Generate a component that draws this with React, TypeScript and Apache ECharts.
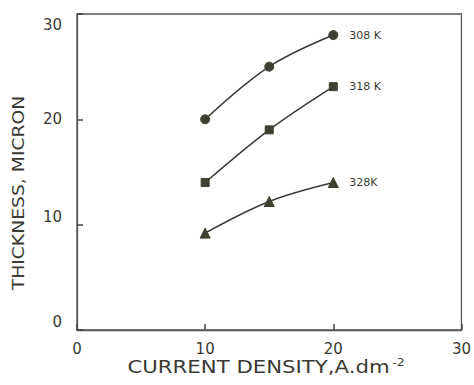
import React, { useEffect, useRef } from "react";
import * as echarts from "echarts";

const currentDensity = [10, 15, 20];
const seriesNames = ["308 K", "318 K", "328K"];
const thickness308 = [20, 25, 28];
const thickness318 = [14, 19, 23.1];
const thickness328 = [9.2, 12.2, 14];
const xTicks = [0, 10, 20, 30];
const yTicks = [0, 10, 20, 30];

const INK = "#3a3a34";
const MARK = "#3f4030";
const FONT = "DejaVu Sans";

export default function App() {
  const ref = useRef<HTMLDivElement>(null);
  useEffect(() => {
    if (!ref.current) return;
    const chart = echarts.init(ref.current, undefined, { renderer: "svg" });
    const mk = (name: string, vals: number[], symbol: string, size: number) => ({
      name,
      type: "line",
      smooth: 0.35,
      data: currentDensity.map((x, i) => [x, vals[i]]),
      symbol,
      symbolSize: size,
      showAllSymbol: true,
      lineStyle: { color: INK, width: 1.5 },
      itemStyle: { color: MARK, borderColor: MARK },
      endLabel: {
        show: true,
        formatter: "{a}",
        distance: 16,
        color: INK,
        fontFamily: FONT,
        fontSize: 11,
      },
    });
    chart.setOption({
      animation: false,
      backgroundColor: "#ffffff",
      grid: {
        left: 77,
        top: 14,
        right: 474 - 466,
        bottom: 385 - 330,
        show: true,
        borderColor: "#555",
        borderWidth: 1.3,
      },
      xAxis: {
        type: "value",
        min: xTicks[0],
        max: xTicks[xTicks.length - 1],
        interval: 10,
        splitLine: { show: false },
        axisLine: { show: true, lineStyle: { color: "#555", width: 1.3 } },
        axisTick: { show: true, inside: true, length: 6, lineStyle: { color: "#444", width: 1.5 } },
        axisLabel: { margin: 11, color: INK, fontFamily: FONT, fontSize: 15 },
      },
      yAxis: {
        type: "value",
        min: yTicks[0],
        max: yTicks[yTicks.length - 1],
        interval: 10,
        splitLine: { show: false },
        axisLine: { show: true, lineStyle: { color: "#555", width: 1.3 } },
        axisTick: { show: true, inside: true, length: 6, lineStyle: { color: "#444", width: 1.5 } },
        axisLabel: {
          margin: 15,
          color: INK,
          fontFamily: FONT,
          fontSize: 15,
          formatter: (v: number) =>
            v === 30 ? "{top|30}" : v === 0 ? "{bot|0}" : v === 10 ? "{ten|10}" : String(v),
          rich: {
            top: { padding: [22, 0, 0, 0], color: INK, fontFamily: FONT, fontSize: 15 },
            bot: { padding: [0, 0, 16, 0], color: INK, fontFamily: FONT, fontSize: 15 },
            ten: { padding: [0, 0, 16, 0], color: INK, fontFamily: FONT, fontSize: 15 },
          },
        },
      },
      graphic: [
        {
          type: "text",
          x: 266,
          y: 367,
          scaleX: 1.25,
          style: {
            text: "CURRENT DENSITY,A.dm{s|-2}",
            rich: { s: { fontSize: 10, verticalAlign: "top", padding: [0, 0, 8, 2], fill: INK, fontFamily: FONT } },
            fill: INK,
            fontFamily: FONT,
            fontSize: 17,
            align: "center",
            verticalAlign: "middle",
          },
        },
        {
          type: "text",
          x: 19,
          y: 193,
          rotation: Math.PI / 2,
          scaleX: 1.25,
          style: {
            text: "THICKNESS, MICRON",
            fill: INK,
            fontFamily: FONT,
            fontSize: 15,
            align: "center",
            verticalAlign: "middle",
          },
        },
      ],
      series: [
        mk(seriesNames[0], thickness308, "circle", 9),
        mk(seriesNames[1], thickness318, "rect", 8),
        mk(seriesNames[2], thickness328, "triangle", 10),
      ],
    });
    return () => chart.dispose();
  }, []);
  return <div ref={ref} style={{ width: 474, height: 385, position: "absolute", left: 0, top: 0 }} />;
}
